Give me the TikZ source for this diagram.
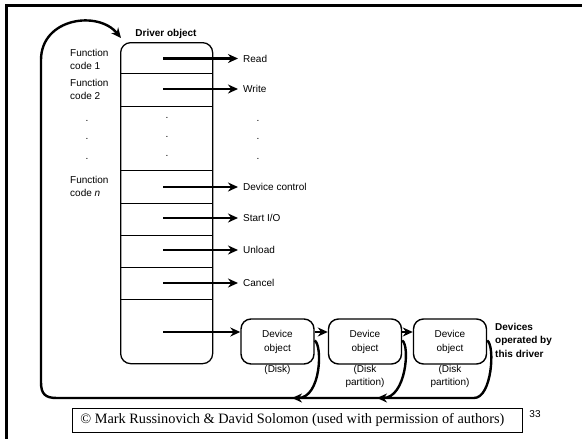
\documentclass[tikz,border=0pt]{standalone}
\usepackage{fontspec}
\setmainfont{Liberation Serif}
\setsansfont{Liberation Sans}
\usetikzlibrary{arrows.meta}
\begin{document}
\begin{tikzpicture}[x=1pt,y=-1pt,
  lab/.style={font=\sffamily\fontsize{10}{13}\selectfont, inner sep=0pt},
  fnlab/.style={lab, align=left, anchor=west},
  blab/.style={font=\sffamily\bfseries\fontsize{10}{13.5}\selectfont, inner sep=0pt},
  arr/.style={line width=2.4pt, -{Stealth[length=10pt,width=9pt]}, shorten >=5pt},
  loopline/.style={line width=2.4pt},
  dev/.style={draw, line width=1.4pt, rounded corners=10pt, minimum width=73pt,
              minimum height=45pt, inner sep=0pt, align=center,
              font=\sffamily\fontsize{10}{14}\selectfont},
  dotlab/.style={lab}
]
\useasboundingbox (0,0) rectangle (582,439);
\fill[white] (0,0) rectangle (582,439);
% slide frame
\draw[line width=3pt] (6,439) -- (6,5.5) -- (582,5.5);

% driver object table
\node[draw, line width=1.3pt, rounded corners=10pt, minimum width=92pt,
      minimum height=321pt, inner sep=0pt, anchor=north west] (drv) at (120,42) {};
\node[blab] (drvt) at (166,34) {Driver object};
\foreach \yy in {73,106,170,203,235,267,299}
  \draw[line width=1pt] (120,\yy) -- (212,\yy);

% function code labels
\node[fnlab] (f1) at (70,59.5) {Function\\code 1};
\node[fnlab] (f2) at (70,89.5) {Function\\code 2};
\node[fnlab] (fn) at (70,186) {Function\\code \textit{n}};

% dots
\foreach \yy in {121,139,159} {
  \node[dotlab] at (87,\yy) {.};
  \node[dotlab] at (258,\yy) {.};
}
\foreach \yy in {118,137,156}
  \node[dotlab] at (167,\yy) {.};

% routine arrows
\coordinate (s1) at (163,58.5);
\coordinate (s2) at (163,89);
\coordinate (s3) at (163,187);
\coordinate (s4) at (163,218);
\coordinate (s5) at (163,250);
\coordinate (s6) at (163,283);
\coordinate (s7) at (163,332);
\node[lab, anchor=west] (r1) at (243,58.5) {Read};
\node[lab, anchor=west] (r2) at (243,89) {Write};
\node[lab, anchor=west] (r3) at (243,187) {Device control};
\node[lab, anchor=west] (r4) at (243,218) {Start I/O};
\node[lab, anchor=west] (r5) at (243,250) {Unload};
\node[lab, anchor=west] (r6) at (243,283) {Cancel};
\foreach \i in {1,...,6}
  \draw[arr] (s\i) -- (r\i.west);

% device objects
\node[dev] (d1) at (277.5,341.5) {Device\\object};
\node[dev] (d2) at (365,341.5) {Device\\object};
\node[dev] (d3) at (450,341.5) {Device\\object};
\node[lab] (l1) at (277.5,370) {(Disk)};
\node[lab, align=center] (l2) at (365,376.5) {(Disk\\partition)};
\node[lab, align=center] (l3) at (450,376.5) {(Disk\\partition)};
\node[blab, align=left, anchor=west] (devs) at (495,340) {Devices\\operated by\\this driver};

\draw[arr, shorten >=0pt] (s7) -- (s7 -| d1.west);
\draw[arr, shorten >=0pt] (d1.east |- s7) -- (d2.west |- s7);
\draw[arr, shorten >=0pt] (d2.east |- s7) -- (d3.west |- s7);

% return loop
\coordinate (m1) at (292,398);
\coordinate (m2) at (377,398);
\coordinate (tgt) at (121,38);
\draw[loopline, -{Stealth[length=10pt,width=9pt]}]
  ([yshift=1pt]d1.east) .. controls +(8,5) and (321,398) .. (m1);
\draw[loopline, -{Stealth[length=10pt,width=9pt]}]
  ([yshift=1pt]d2.east) .. controls +(8,5) and (406,398) .. (m2);
\draw[loopline, -{Stealth[length=10pt,width=9pt]}]
  ([yshift=1pt]d3.east) .. controls +(8,5) and (492,398) .. (474,398)
  -- (57,398) .. controls (45,398) and (41,394) .. (41,382)
  -- (41,60) .. controls (41,18) and (98,10) .. (tgt);

% copyright
\node[draw, line width=0.8pt, minimum width=450pt, minimum height=24pt,
      inner sep=0pt, anchor=north west,
      font=\fontsize{14.3}{16}\selectfont] (cp) at (72,408)
  {\hspace*{-10pt}© Mark Russinovich \& David Solomon (used with permission of authors)};
\node[font=\sffamily\fontsize{10}{12}\selectfont, inner sep=0pt] (pg) at (535,414) {33};
\end{tikzpicture}
\end{document}
